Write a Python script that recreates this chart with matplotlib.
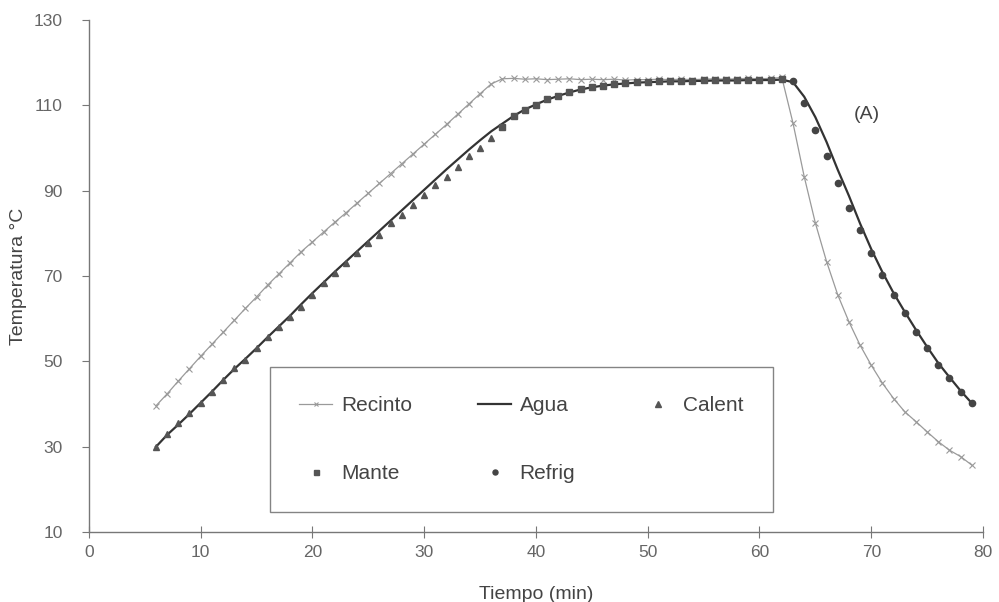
import matplotlib.pyplot as plt
import numpy as np

plt.rcParams['font.family'] = ['Liberation Sans', 'DejaVu Sans']

# Time axis (min)
t_recinto = list(range(6, 80))
t_agua = list(range(6, 80))
t_calent = list(range(6, 37))
t_mante = list(range(37, 63))
t_refrig = list(range(63, 80))

recinto = [39.6, 42.4, 45.4, 48.3, 51.2, 54.0, 56.8, 59.6, 62.4, 65.1,
           67.9, 70.5, 73.1, 75.7, 78.0, 80.3, 82.6, 84.8, 87.1, 89.4,
           91.7, 94.0, 96.3, 98.6, 100.9, 103.2, 105.5, 107.9, 110.3, 112.7,
           115.0, 116.2, 116.3, 116.1, 116.2, 116.0, 116.1, 116.2, 116.0, 116.1,
           116.0, 116.1, 115.9, 116.0, 116.0, 116.1, 116.0, 116.1, 116.0, 116.1,
           116.2, 116.1, 116.2, 116.3, 116.2, 116.3, 116.5,
           105.8, 93.3, 82.4, 73.4, 65.6, 59.3, 53.8, 49.1, 44.9, 41.3,
           38.2, 35.9, 33.5, 31.2, 29.2, 27.7, 25.7]

agua = [30.0, 32.8, 35.2, 37.7, 40.3, 42.9, 45.6, 48.2, 50.6, 53.1,
        55.7, 58.2, 60.7, 63.4, 66.0, 68.5, 71.0, 73.4, 75.8, 78.2,
        80.6, 83.0, 85.4, 87.8, 90.2, 92.6, 95.0, 97.3, 99.6, 101.8,
        103.9, 105.7, 107.5, 109.0, 110.2, 111.3, 112.2, 113.0, 113.7, 114.2,
        114.6, 114.9, 115.1, 115.3, 115.4, 115.5, 115.6, 115.6, 115.7, 115.7,
        115.8, 115.8, 115.8, 115.9, 115.9, 115.9, 116.0,
        115.4, 112.0, 107.2, 101.4, 94.9, 88.8, 82.3, 76.3, 70.9, 66.0,
        61.6, 57.4, 53.4, 49.6, 46.3, 43.1, 40.2]

calent = [30.0, 33.0, 35.5, 37.8, 40.2, 42.9, 45.6, 48.4, 50.3, 53.1,
          55.8, 58.1, 60.5, 62.8, 65.6, 68.3, 70.7, 73.0, 75.3, 77.7,
          79.6, 82.4, 84.3, 86.7, 89.0, 91.3, 93.3, 95.6, 98.0, 100.0,
          102.3]

mante = [105.0, 107.4, 108.9, 110.1, 111.4, 112.2, 113.2, 113.8, 114.3, 114.6,
         115.0, 115.2, 115.4, 115.5, 115.6, 115.6, 115.7, 115.7, 115.8, 115.8,
         115.8, 115.9, 115.9, 115.9, 116.0, 116.1]

refrig = [115.6, 110.5, 104.3, 98.0, 91.8, 86.0, 80.7, 75.3, 70.3, 65.6,
          61.3, 57.0, 53.1, 49.2, 46.0, 42.9, 40.2]

fig = plt.figure(figsize=(9.99, 6.02), dpi=100)
ax = fig.add_axes([0.089, 0.116, 0.895, 0.851])

l_rec, = ax.plot(t_recinto, recinto, color='#9a9a9a', lw=0.9, marker='x',
                 markersize=4, markeredgewidth=0.8, label='Recinto')
l_agua, = ax.plot(t_agua, agua, color='#333333', lw=1.6, label='Agua')
l_cal, = ax.plot(t_calent, calent, ls='none', marker='^', markersize=5,
                 color='#555555', label='Calent')
l_man, = ax.plot(t_mante, mante, ls='none', marker='s', markersize=4.5,
                 color='#555555', label='Mante')
l_ref, = ax.plot(t_refrig, refrig, ls='none', marker='o', markersize=4.5,
                 color='#444444', label='Refrig')

ax.set_xlim(0, 80)
ax.set_ylim(10, 130)
ax.set_xticks(np.arange(0, 81, 10))
ax.set_yticks(np.arange(10, 131, 20))

for s in ['top', 'right']:
    ax.spines[s].set_visible(False)
for s in ['left', 'bottom']:
    ax.spines[s].set_color('#777777')
    ax.spines[s].set_linewidth(1.0)

ax.tick_params(axis='x', direction='inout', length=8, colors='#777777',
               labelcolor='#666666', labelsize=12.5, pad=5)
ax.tick_params(axis='y', direction='out', length=5, colors='#777777',
               labelcolor='#666666', labelsize=12.5, pad=14)

ax.set_xlabel('Tiempo (min)', fontsize=14, color='#444444', labelpad=19)
ax.set_ylabel('Temperatura °C', fontsize=14, color='#444444', labelpad=5)

ax.text(69.6, 107.8, '(A)', fontsize=14, color='#444444', ha='center', va='center')

leg = ax.legend([l_rec, l_man, l_agua, l_ref, l_cal],
                ['Recinto', 'Mante', 'Agua', 'Refrig', 'Calent'],
                ncol=3, mode='expand', loc='lower left',
                bbox_to_anchor=(0.2025, 0.039, 0.5625, 0.289),
                fontsize=15, frameon=True, fancybox=False, borderpad=1.4,
                labelspacing=2.35, handlelength=1.6, handletextpad=0.4,
                borderaxespad=0, markerscale=0.8)
leg.get_frame().set_edgecolor('#666666')
leg.get_frame().set_linewidth(1.0)
for txt in leg.get_texts():
    txt.set_color('#444444')

fig.savefig('out.png', dpi=100)
